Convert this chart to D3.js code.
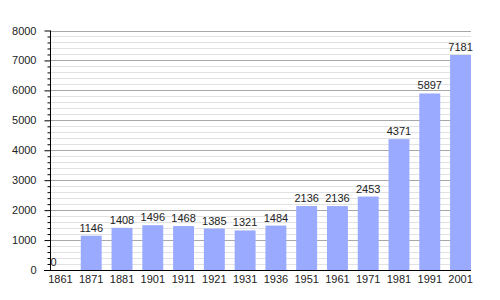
<!DOCTYPE html>
<html>
<head>
<meta charset="utf-8">
<script src="https://cdn.jsdelivr.net/npm/d3@7"></script>
<style>
  body { margin: 0; background: #fff; }
  text { font-family: "Liberation Sans", Arial, sans-serif; fill: #222; }
</style>
</head>
<body>
<svg id="chart" width="500" height="300"></svg>
<script>
// population by census year
const years = ["1861", "1871", "1881", "1901", "1911", "1921", "1931", "1936", "1951", "1961", "1971", "1981", "1991", "2001"];
const population = [0, 1146, 1408, 1496, 1468, 1385, 1321, 1484, 2136, 2136, 2453, 4371, 5897, 7181];
const yTicks = [0, 1000, 2000, 3000, 4000, 5000, 6000, 7000, 8000];

// plot box (note: "top" is taken by window.top, so prefix names)
var plotLeft = 50, plotRight = 471, plotTop = 30.5, plotBottom = 270;

var svg = d3.select("#chart");

var x = d3.scaleBand()
  .domain(years)
  .range([plotLeft, plotRight])
  .paddingInner(0.32)
  .paddingOuter(0);

var y = d3.scaleLinear()
  .domain([0, 8000])
  .range([plotBottom, plotTop]);

// minor grid every 200
var minor = d3.range(200, 8001, 200).filter(function (v) { return v % 1000 !== 0; });
svg.append("g").selectAll("line")
  .data(minor)
  .enter()
  .append("line")
  .attr("x1", plotLeft).attr("x2", plotRight)
  .attr("y1", function (d) { return Math.round(y(d)) + 0.5; })
  .attr("y2", function (d) { return Math.round(y(d)) + 0.5; })
  .attr("stroke", "#e2e2e2");

// major grid every 1000
svg.append("g").selectAll("line")
  .data(yTicks.slice(1))
  .enter()
  .append("line")
  .attr("x1", plotLeft).attr("x2", plotRight)
  .attr("y1", function (d) { return Math.round(y(d)) + 0.5; })
  .attr("y2", function (d) { return Math.round(y(d)) + 0.5; })
  .attr("stroke", "#a8a8a8");

// bars
svg.append("g").selectAll("rect")
  .data(population)
  .enter()
  .append("rect")
  .attr("x", function (d, i) { return x(years[i]); })
  .attr("y", function (d) { return y(d); })
  .attr("width", x.bandwidth())
  .attr("height", function (d) { return plotBottom - y(d); })
  .attr("fill", "#99aaff");

// value labels
svg.append("g").selectAll("text")
  .data(population)
  .enter()
  .append("text")
  .attr("x", function (d, i) { return x(years[i]) + x.bandwidth() / 2 - (d === 0 ? 7 : 0); })
  .attr("y", function (d) { return y(d) - 4; })
  .attr("text-anchor", "middle")
  .style("font-size", "11px")
  .text(function (d) { return d; });

// y axis: minor ticks then major with labels
svg.append("g")
  .attr("transform", "translate(" + (plotLeft + 0.5) + ",0)")
  .call(d3.axisLeft(y).tickValues(minor).tickSize(3).tickFormat(""))
  .call(function (g) { g.select(".domain").remove(); });

var yAxis = svg.append("g")
  .attr("transform", "translate(" + (plotLeft + 0.5) + ",0)")
  .call(d3.axisLeft(y).tickValues(yTicks).tickSize(6).tickPadding(8).tickFormat(d3.format("d")));
yAxis.select(".domain").attr("d", "M0," + plotTop + "V" + plotBottom);
yAxis.selectAll("text").style("font-size", "11px").attr("fill", "#222");

// x axis
var xAxis = svg.append("g")
  .attr("transform", "translate(0," + (plotBottom + 0.5) + ")")
  .call(d3.axisBottom(x).tickSize(0).tickPadding(5));
xAxis.select(".domain").attr("d", "M" + (plotLeft - 6) + ",0H" + plotRight);
xAxis.selectAll("text").style("font-size", "11px").attr("fill", "#222");
</script>
</body>
</html>
